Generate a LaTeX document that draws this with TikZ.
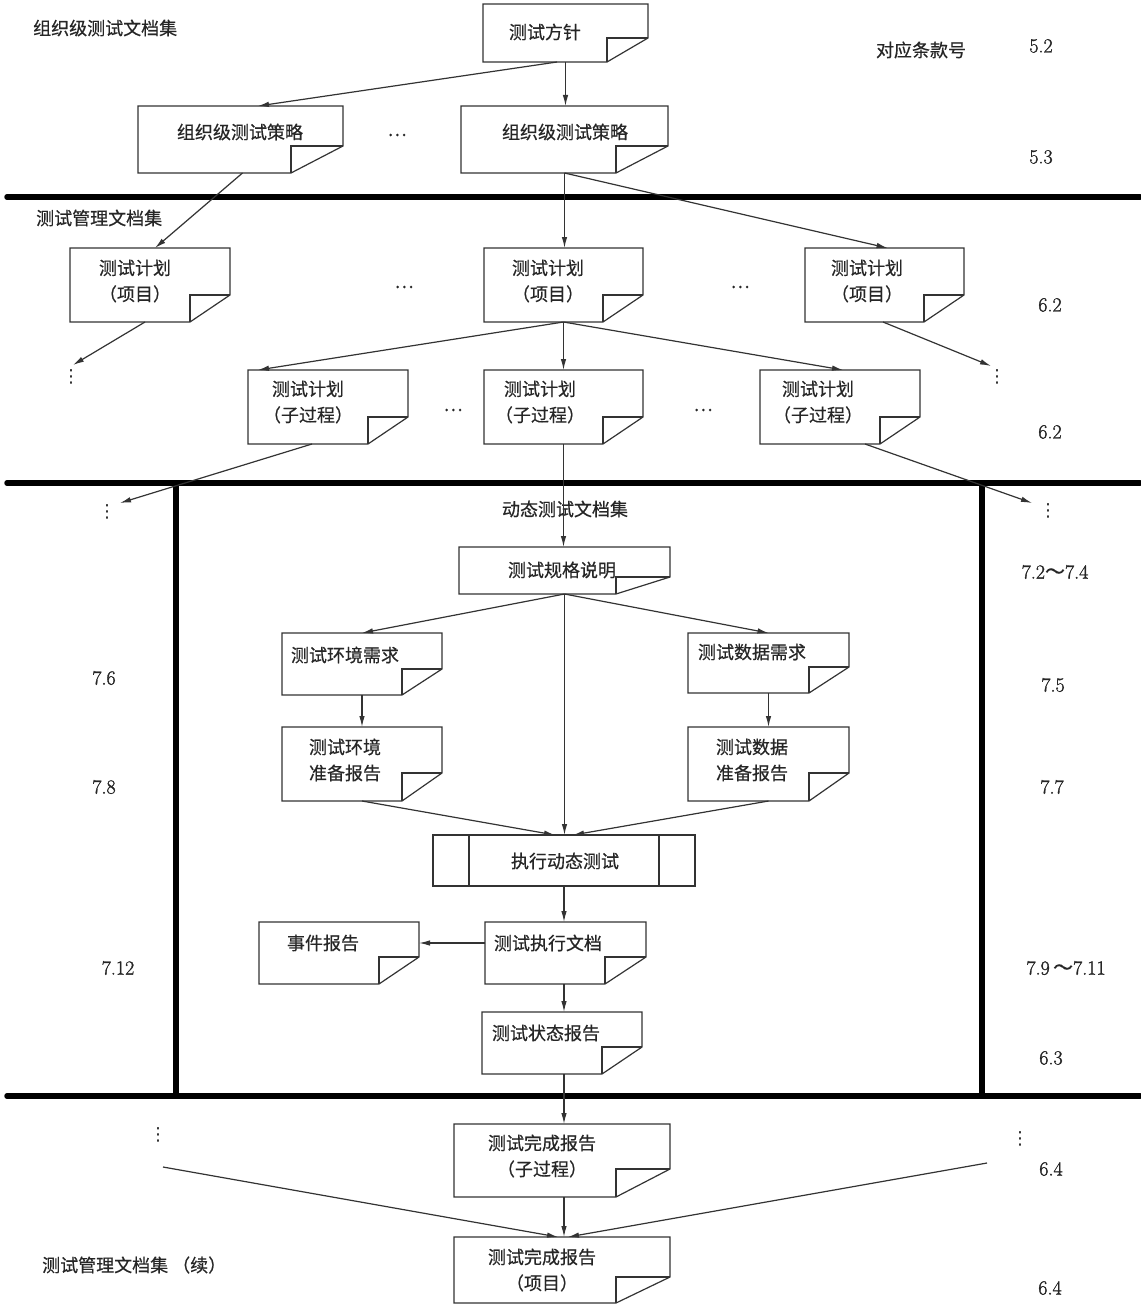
\documentclass[tikz,border=0pt]{standalone}
\usepackage{fontspec}
\newfontfamily\cjk{Noto Sans CJK SC}[FakeBold=0.5]
\newfontfamily\djv{DejaVu Sans}
\newfontfamily\numfont{Latin Modern Roman}[FakeBold=1.4]
\usetikzlibrary{arrows.meta,fit}
\tikzset{
  ln/.style={line width=1.2pt, draw=black!80},
  arr/.style={ln, -{Latex[length=11pt,width=5.5pt]}},
  rulebar/.style={line width=5.5pt, line cap=round, draw=black},
  txt/.style={font=\cjk\fontsize{18}{26}\selectfont, text=black!85, align=center, inner sep=0pt},
  lbl/.style={font=\cjk\fontsize{18}{26}\selectfont, text=black!85, inner sep=0pt},
  num/.style={font=\numfont\fontsize{20}{24}\selectfont, text=black!85, inner sep=0pt},
  dotsn/.style={font=\djv\fontsize{18}{18}\selectfont, text=black!85, inner sep=0pt},
  boxfit/.style={inner sep=0pt, outer sep=0pt},
}
\newcommand\docbox[9]{%
  \node[boxfit, fit={(#2,#3) (#4,#5)}] (#1) {};
  \draw[ln, line join=miter] (#1.north west) -- (#1.north east) -- ([yshift=#7pt]#1.south east) -- ([xshift=-#6pt]#1.south east) -- (#1.south west) -- cycle;
  \draw[ln] ([yshift=#7pt]#1.south east) -- ([xshift=-#6pt,yshift=#7pt]#1.south east) -- ([xshift=-#6pt]#1.south east);
  \node[txt] (#1-t) at #8 {#9};
}
\begin{document}
\begin{tikzpicture}[x=1pt,y=-1pt]
\useasboundingbox[fill=white] (0,0) rectangle (1140,1308);

% thick rules
\draw[rulebar] (7,197) -- (1140,197);
\draw[rulebar] (7,483) -- (1140,483);
\draw[rulebar] (7,1096) -- (1140,1096);
\draw[rulebar, line cap=butt] (176,483) -- (176,1096);
\draw[rulebar, line cap=butt] (982,483) -- (982,1096);

% documents
\docbox{fz}{483}{4}{648}{62}{41}{24}{(545,32)}{测试方针}
\docbox{ol}{138}{106}{343}{173}{52}{27}{(240,132)}{组织级测试策略}
\docbox{or}{461}{106}{668}{173}{52}{27}{(565,132)}{组织级测试策略}
\docbox{pl}{70}{248}{230}{322}{40}{27}{(135,281)}{测试计划\\（项目）}
\docbox{pm}{484}{248}{643}{322}{40}{27}{(548,281)}{测试计划\\（项目）}
\docbox{pr}{805}{248}{964}{322}{40}{27}{(867,281)}{测试计划\\（项目）}
\docbox{sl}{248}{370}{408}{444}{40}{27}{(308,402)}{测试计划\\（子过程）}
\docbox{sm}{484}{370}{643}{444}{40}{27}{(540,402)}{测试计划\\（子过程）}
\docbox{sr}{760}{370}{920}{444}{40}{27}{(818,402)}{测试计划\\（子过程）}
\docbox{spec}{459}{547}{670}{594}{54}{17}{(562,570)}{测试规格说明}
\docbox{envr}{282}{633}{442}{695}{40}{26}{(345,655)}{测试环境需求}
\docbox{datr}{688}{633}{849}{693}{40}{26}{(752,652)}{测试数据需求}
\docbox{envp}{282}{727}{442}{801}{40}{28}{(345,760)}{测试环境\\准备报告}
\docbox{datp}{688}{727}{849}{801}{40}{28}{(752,760)}{测试数据\\准备报告}
\docbox{inc}{259}{922}{419}{984}{40}{27}{(323,943)}{事件报告}
\docbox{exdoc}{485}{922}{646}{984}{41}{27}{(548,943)}{测试执行文档}
\docbox{stat}{482}{1012}{642}{1074}{40}{27}{(546,1033)}{测试状态报告}
\docbox{cs}{454}{1124}{670}{1197}{54}{28}{(542,1156)}{测试完成报告\\（子过程）}
\docbox{cp}{454}{1237}{670}{1303}{54}{26}{(542,1270)}{测试完成报告\\（项目）}

% predefined process
\node[boxfit, fit={(433,835) (695,886)}, draw=black!80, line width=1.2pt] (exec) {};
\draw[ln] (469,835) -- (469,886);
\draw[ln] (659,835) -- (659,886);
\node[txt] (exec-t) at (565,861) {执行动态测试};

% labels
\node[lbl, anchor=west] (l1) at (33,28) {组织级测试文档集};
\node[lbl] (l2) at (921,50) {对应条款号};
\node[lbl, anchor=west] (l3) at (36,218) {测试管理文档集};
\node[lbl] (l4) at (565,509) {动态测试文档集};
\node[lbl, anchor=west] (l5) at (42,1265) {测试管理文档集 （续）};

\node[lbl] (e1) at (397,135) {…};
\node[lbl] (e2) at (404,287) {…};
\node[lbl] (e3) at (740,287) {…};
\node[lbl] (e4) at (453,410) {…};
\node[lbl] (e5) at (703,410) {…};

\node[num] (n1) at (1041,46) {5.2};
\node[num] (n2) at (1041,157) {5.3};
\node[num] (n3) at (1050,305) {6.2};
\node[num] (n4) at (1050,432) {6.2};
\node[num] (n5) at (1055,572) {7.2{\cjk ～}7.4};
\node[num] (n6) at (104,678) {7.6};
\node[num] (n7) at (1053,685) {7.5};
\node[num] (n8) at (104,787) {7.8};
\node[num] (n9) at (1052,787) {7.7};
\node[num] (n10) at (118,968) {7.12};
\node[num] (n11) at (1066,968) {7.9\,{\cjk ～}7.11};
\node[num] (n12) at (1051,1058) {6.3};
\node[num] (n13) at (1051,1169) {6.4};
\node[num] (n14) at (1050,1288) {6.4};

% vertical dots
\node[dotsn] (d1) at (71,377) {⋮};
\node[dotsn] (d2) at (997,377) {⋮};
\node[dotsn] (d3) at (107,512) {⋮};
\node[dotsn] (d4) at (1048,511) {⋮};
\node[dotsn] (d5) at (158,1135) {⋮};
\node[dotsn] (d6) at (1020,1139) {⋮};

% connectors
\draw[arr] (fz.south) -- (fz.south |- or.north);
\draw[arr] ([xshift=-8.5pt]fz.south) -- ([xshift=17.5pt]ol.north);
\draw[arr] ([xshift=2pt]ol.south) -- ([xshift=5pt]pl.north);
\draw[arr] (or.south) -- (or.south |- pm.north);
\draw[arr] (or.south) -- ([xshift=3pt]pr.north);
\draw[arr] ([xshift=-5pt]pl.south) -- ([xshift=2pt,yshift=12pt]d1.center);
\draw[arr] ([xshift=-1.5pt]pr.south) -- ([xshift=-6pt,yshift=11pt]d2.center);
\draw[arr] (pm.south) -- ([xshift=-70pt]sl.north);
\draw[arr] (pm.south) -- (pm.south |- sm.north);
\draw[arr] (pm.south) -- ([xshift=3pt]sr.north);
\draw[arr] ([xshift=-16pt]sl.south) -- ([xshift=13pt,yshift=9pt]d3.center);
\draw[arr] ([xshift=25pt]sr.south) -- ([xshift=-16pt,yshift=8pt]d4.center);
\draw[arr] (sm.south) -- (sm.south |- spec.north);
\draw[arr] (spec.south) -- (envr.north);
\draw[arr] (spec.south) -- (datr.north);
\draw[arr] (spec.south) -- (spec.south |- exec.north);
\draw[arr] (envr.south) -- (envr.south |- envp.north);
\draw[arr] (datr.south) -- (datr.south |- datp.north);
\draw[arr] (envp.south) -- ([xshift=-9pt]exec.north);
\draw[arr] (datp.south) -- ([xshift=9pt]exec.north);
\draw[arr] (exec.south) -- (exec.south |- exdoc.north);
\draw[arr] ([yshift=10pt]exdoc.west) -- ([yshift=10pt]inc.east);
\draw[arr] (exec.south |- exdoc.south) -- (exec.south |- stat.north);
\draw[arr] (exec.south |- stat.south) -- (exec.south |- cs.north);
\draw[arr] (exec.south |- cs.south) -- (exec.south |- cp.north);
\coordinate (bl) at (163,1167);
\coordinate (br) at (987,1163);
\draw[arr] (bl) -- ([xshift=-4pt]cp.north);
\draw[arr] (br) -- ([xshift=6pt]cp.north);
\end{tikzpicture}
\end{document}
